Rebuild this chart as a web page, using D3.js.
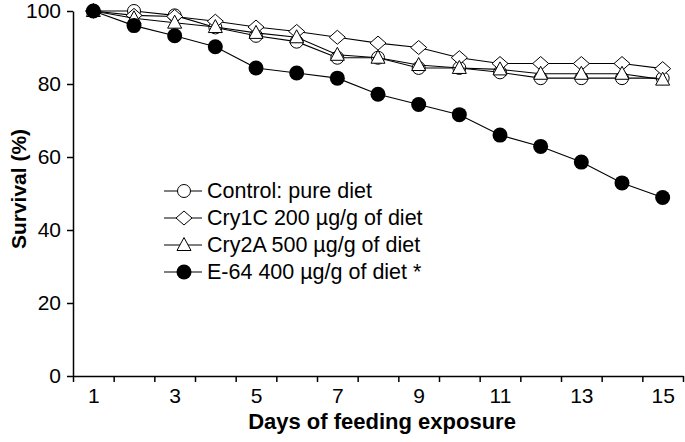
<!DOCTYPE html>
<html>
<head>
<meta charset="utf-8">
<script src="https://cdn.jsdelivr.net/npm/d3@7"></script>
<style>
  body { margin: 0; background: #fff; }
  text { font-family: "Liberation Sans", Arial, sans-serif; fill: #000; }
</style>
</head>
<body>
<div id="chart"></div>
<script>
var svgWidth = 685;
var svgHeight = 442;

var margin = { top: 11, right: 2, bottom: 66, left: 73 };
var chartWidth = svgWidth - margin.left - margin.right;
var chartHeight = svgHeight - margin.top - margin.bottom;

// data
var days = [1, 2, 3, 4, 5, 6, 7, 8, 9, 10, 11, 12, 13, 14, 15];
var dayLabels = [1, 3, 5, 7, 9, 11, 13, 15];
var yTicks = [0, 20, 40, 60, 80, 100];

var control = [100, 100, 98.8, 95.5, 93.2, 91.6, 87.2, 87.2, 84.4, 84.4, 83.2, 81.6, 81.6, 81.6, 81.6];
var cry1c   = [100, 98.8, 98.5, 97.2, 95.6, 94.4, 92.8, 91.2, 90, 87.2, 85.6, 85.6, 85.6, 85.6, 84.2];
var cry2a   = [100, 98, 96.8, 95.6, 94, 92.8, 88, 87.2, 85.2, 84.4, 84, 82.8, 82.8, 82.8, 81.2];
var e64     = [100, 96, 93.2, 90.2, 84.4, 83, 81.6, 77.2, 74.4, 71.6, 66, 62.9, 58.6, 52.9, 48.9];

var seriesNames = ["Control: pure diet", "Cry1C 200 µg/g of diet", "Cry2A 500 µg/g of diet", "E-64 400 µg/g of diet *"];
var seriesValues = [control, cry1c, cry2a, e64];
var seriesMarkers = ["circle", "diamond", "triangle", "dot"];

var svg = d3.select("#chart")
    .append("svg")
    .attr("width", svgWidth)
    .attr("height", svgHeight);

var chartGroup = svg.append("g")
    .attr("transform", `translate(${margin.left}, ${margin.top})`);

var xScale = d3.scaleLinear()
    .domain([0.5, days.length + 0.5])
    .range([0, chartWidth]);

var yScale = d3.scaleLinear()
    .domain([0, 100])
    .range([chartHeight, 0]);

// x axis: tick marks between categories, labels on odd days
var boundaries = d3.range(0.5, days.length + 1, 1);
var xAxis = chartGroup.append("g")
    .attr("transform", `translate(0, ${chartHeight})`)
    .call(d3.axisBottom(xScale).tickValues(boundaries).tickFormat("").tickSize(6).tickSizeOuter(0));

var xLabels = chartGroup.append("g")
    .attr("transform", `translate(0, ${chartHeight})`)
    .call(d3.axisBottom(xScale).tickValues(dayLabels).tickFormat(d3.format("d")).tickSize(0).tickPadding(12));
xLabels.select(".domain").remove();

var yAxis = chartGroup.append("g")
    .call(d3.axisLeft(yScale).tickValues(yTicks).tickSize(6).tickSizeOuter(0).tickPadding(6));

chartGroup.selectAll(".domain").attr("stroke", "#000").attr("stroke-width", 1.5);
chartGroup.selectAll(".tick line").attr("stroke", "#000").attr("stroke-width", 1.5);
chartGroup.selectAll(".tick text").style("font-size", "21px");

// axis titles
svg.append("text")
    .attr("x", 382)
    .attr("y", 429)
    .attr("text-anchor", "middle")
    .style("font-size", "22px")
    .style("font-weight", "bold")
    .text("Days of feeding exposure");

svg.append("text")
    .attr("transform", "rotate(-90)")
    .attr("x", -189)
    .attr("y", 26)
    .attr("text-anchor", "middle")
    .style("font-size", "21px")
    .style("font-weight", "bold")
    .text("Survival (%)");

function drawMarker(sel, type) {
    if (type === "circle") {
        sel.append("circle").attr("r", 6.5).attr("fill", "#fff").attr("stroke", "#000").attr("stroke-width", 1);
    } else if (type === "dot") {
        sel.append("circle").attr("r", 7.5).attr("fill", "#000");
    } else if (type === "diamond") {
        sel.append("path").attr("d", "M0,-7L8,0L0,7L-8,0Z").attr("fill", "#fff").attr("stroke", "#000").attr("stroke-width", 1);
    } else {
        sel.append("path").attr("d", "M0,-7.5L7,5.5L-7,5.5Z").attr("fill", "#fff").attr("stroke", "#000").attr("stroke-width", 1);
    }
}

var line = d3.line()
    .x((d, i) => xScale(days[i]))
    .y(d => yScale(d));

seriesValues.forEach(function(values, s) {
    chartGroup.append("path")
        .attr("d", line(values))
        .attr("fill", "none")
        .attr("stroke", "#000")
        .attr("stroke-width", 1.1);

    chartGroup.selectAll(".m" + s)
        .data(values)
        .enter()
        .append("g")
        .attr("class", "m" + s)
        .attr("transform", (d, i) => `translate(${xScale(days[i])}, ${yScale(d)})`)
        .each(function() { drawMarker(d3.select(this), seriesMarkers[s]); });
});

// legend
var legend = svg.append("g")
    .attr("transform", "translate(164, 191)");

seriesNames.forEach(function(name, s) {
    var row = legend.append("g")
        .attr("transform", `translate(0, ${s * 27})`);
    row.append("line")
        .attr("x1", 0).attr("x2", 38)
        .attr("stroke", "#000").attr("stroke-width", 1.1);
    var m = row.append("g").attr("transform", "translate(20, 0)");
    drawMarker(m, seriesMarkers[s]);
    row.append("text")
        .attr("x", 43)
        .attr("y", 7)
        .style("font-size", "21.5px")
        .text(name);
});
</script>
</body>
</html>
